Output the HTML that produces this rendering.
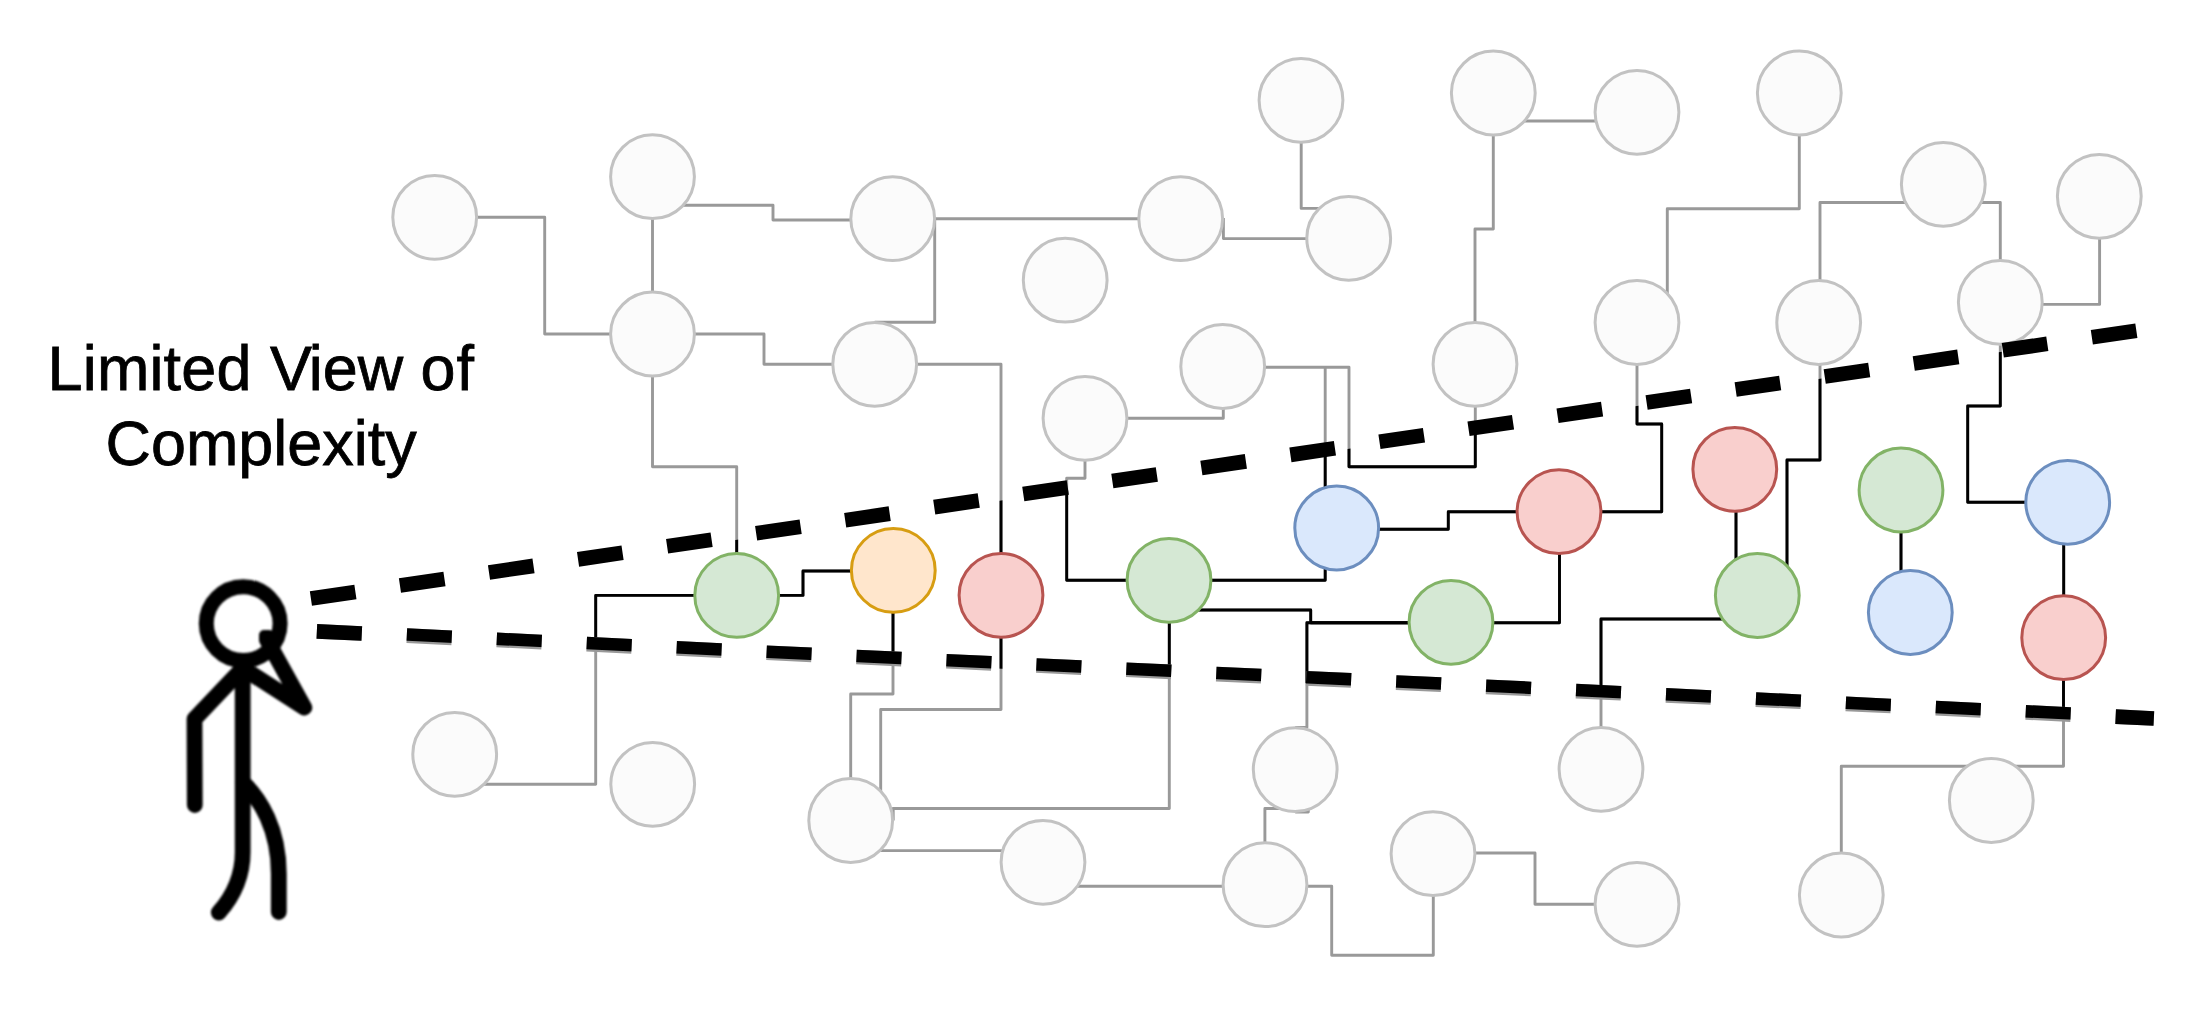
<!DOCTYPE html>
<html><head><meta charset="utf-8"><title>Limited View of Complexity</title>
<style>
html,body{margin:0;padding:0;background:#fff;}
body{width:2206px;height:1017px;overflow:hidden;font-family:"Liberation Sans",sans-serif;}
svg{display:block;}
</style></head><body>
<svg width="2206" height="1017" viewBox="0 0 2206 1017">
<defs>
<clipPath id="cone"><polygon points="250.0,612.3 2206.0,321.4 2206.0,725.8 250.0,633.0"/></clipPath>
<clipPath id="lowclip"><polygon points="0.0,0.0 2206.0,0.0 2206.0,1017.0 2090.0,1017.0 2090.0,720.6 392.0,640.1 392.0,1017.0 0.0,1017.0"/></clipPath>
<filter id="soft" x="-10%" y="-10%" width="120%" height="120%"><feGaussianBlur stdDeviation="0.9"/></filter>
</defs>
<rect width="2206" height="1017" fill="#fff"/>
<g fill="none" stroke="#999999" stroke-width="2.9" stroke-linejoin="round">
<polyline points="434.7,217.3 544.7,217.3 544.7,334.0 652.5,334.0"/>
<polyline points="652.5,176.7 652.5,334.0"/>
<polyline points="660.0,205.3 773.0,205.3 773.0,220.0 892.7,220.0"/>
<polyline points="892.7,218.7 1180.7,218.7"/>
<polyline points="934.7,218.7 934.7,322.3 874.7,322.3"/>
<polyline points="652.5,334.0 764.0,334.0 764.0,364.3 874.7,364.3"/>
<polyline points="874.7,364.3 1001.0,364.3 1001.0,595.3"/>
<polyline points="652.5,334.0 652.5,466.7 736.7,466.7 736.7,595.4"/>
<polyline points="1223.4,218.0 1223.4,238.6 1348.7,238.6"/>
<polyline points="1301.2,100.3 1301.2,208.4 1330.0,208.4"/>
<polyline points="1493.3,121.0 1637.0,121.0"/>
<polyline points="1493.3,93.0 1493.3,229.0 1475.0,229.0 1475.0,364.3"/>
<polyline points="1799.3,93.0 1799.3,208.7 1667.3,208.7 1667.3,322.5"/>
<polyline points="1943.3,202.5 1820.0,202.5 1820.0,322.5"/>
<polyline points="1943.3,202.5 2000.3,202.5 2000.3,302.3"/>
<polyline points="2099.6,196.3 2099.6,304.4 2000.3,304.4"/>
<polyline points="1085.0,418.3 1223.3,418.3 1223.3,366.5"/>
<polyline points="1085.0,418.3 1085.0,478.3 1066.7,478.3 1066.7,580.3 1169.0,580.3"/>
<polyline points="1169.0,580.3 1325.2,580.3 1325.2,528.0"/>
<polyline points="1222.7,367.3 1349.0,367.3 1349.0,466.7 1475.3,466.7 1475.3,364.3"/>
<polyline points="1325.2,367.3 1325.2,528.0"/>
<polyline points="1336.7,529.3 1448.3,529.3 1448.3,511.7 1559.0,511.7"/>
<polyline points="1559.0,511.7 1661.7,511.7 1661.7,424.0 1637.0,424.0 1637.0,322.5"/>
<polyline points="1559.5,511.7 1559.5,622.7 1451.0,622.7"/>
<polyline points="1169.0,610.0 1310.7,610.0 1310.7,622.7 1451.0,622.7"/>
<polyline points="1451.0,622.7 1306.9,622.7 1306.9,727.4 1295.2,727.4"/>
<polyline points="1295.2,812.0 1308.3,812.0 1308.3,808.5 1264.9,808.5 1264.9,884.7"/>
<polyline points="1169.3,580.3 1169.3,808.5 893.2,808.5 893.2,820.5"/>
<polyline points="736.7,595.4 595.7,595.4 595.7,784.3 470.0,784.3"/>
<polyline points="736.7,595.4 803.0,595.4 803.0,571.0 892.7,571.0"/>
<polyline points="893.0,570.0 893.0,694.0 850.7,694.0 850.7,820.5"/>
<polyline points="1001.0,595.3 1001.0,709.5 880.7,709.5 880.7,810.0"/>
<polyline points="880.8,840.0 880.8,850.6 1020.0,850.6"/>
<polyline points="1060.0,886.3 1265.0,886.3"/>
<polyline points="1265.0,886.3 1331.7,886.3 1331.7,955.3 1433.3,955.3 1433.3,853.7"/>
<polyline points="1433.0,853.0 1535.0,853.0 1535.0,904.3 1637.0,904.3"/>
<polyline points="1736.0,468.7 1736.0,565.0"/>
<polyline points="1820.0,322.5 1820.0,460.0 1787.0,460.0 1787.0,575.0"/>
<polyline points="1740.0,619.0 1601.0,619.0 1601.0,769.3"/>
<polyline points="1901.0,490.0 1901.0,590.0"/>
<polyline points="2000.3,302.3 2000.3,406.0 1967.7,406.0 1967.7,502.3 2067.7,502.3"/>
<polyline points="2067.7,543.5 2063.7,543.5 2063.7,637.7"/>
<polyline points="2063.5,637.7 2063.5,766.3 1841.3,766.3 1841.3,895.0"/>
</g>
<g fill="none" stroke="#000" stroke-width="2.9" stroke-linejoin="round" clip-path="url(#cone)">
<polyline points="434.7,217.3 544.7,217.3 544.7,334.0 652.5,334.0"/>
<polyline points="652.5,176.7 652.5,334.0"/>
<polyline points="660.0,205.3 773.0,205.3 773.0,220.0 892.7,220.0"/>
<polyline points="892.7,218.7 1180.7,218.7"/>
<polyline points="934.7,218.7 934.7,322.3 874.7,322.3"/>
<polyline points="652.5,334.0 764.0,334.0 764.0,364.3 874.7,364.3"/>
<polyline points="874.7,364.3 1001.0,364.3 1001.0,595.3"/>
<polyline points="652.5,334.0 652.5,466.7 736.7,466.7 736.7,595.4"/>
<polyline points="1223.4,218.0 1223.4,238.6 1348.7,238.6"/>
<polyline points="1301.2,100.3 1301.2,208.4 1330.0,208.4"/>
<polyline points="1493.3,121.0 1637.0,121.0"/>
<polyline points="1493.3,93.0 1493.3,229.0 1475.0,229.0 1475.0,364.3"/>
<polyline points="1799.3,93.0 1799.3,208.7 1667.3,208.7 1667.3,322.5"/>
<polyline points="1943.3,202.5 1820.0,202.5 1820.0,322.5"/>
<polyline points="1943.3,202.5 2000.3,202.5 2000.3,302.3"/>
<polyline points="2099.6,196.3 2099.6,304.4 2000.3,304.4"/>
<polyline points="1085.0,418.3 1223.3,418.3 1223.3,366.5"/>
<polyline points="1085.0,418.3 1085.0,478.3 1066.7,478.3 1066.7,580.3 1169.0,580.3"/>
<polyline points="1169.0,580.3 1325.2,580.3 1325.2,528.0"/>
<polyline points="1222.7,367.3 1349.0,367.3 1349.0,466.7 1475.3,466.7 1475.3,364.3"/>
<polyline points="1325.2,367.3 1325.2,528.0"/>
<polyline points="1336.7,529.3 1448.3,529.3 1448.3,511.7 1559.0,511.7"/>
<polyline points="1559.0,511.7 1661.7,511.7 1661.7,424.0 1637.0,424.0 1637.0,322.5"/>
<polyline points="1559.5,511.7 1559.5,622.7 1451.0,622.7"/>
<polyline points="1169.0,610.0 1310.7,610.0 1310.7,622.7 1451.0,622.7"/>
<polyline points="1451.0,622.7 1306.9,622.7 1306.9,727.4 1295.2,727.4"/>
<polyline points="1295.2,812.0 1308.3,812.0 1308.3,808.5 1264.9,808.5 1264.9,884.7"/>
<polyline points="1169.3,580.3 1169.3,808.5 893.2,808.5 893.2,820.5"/>
<polyline points="736.7,595.4 595.7,595.4 595.7,784.3 470.0,784.3"/>
<polyline points="736.7,595.4 803.0,595.4 803.0,571.0 892.7,571.0"/>
<polyline points="893.0,570.0 893.0,694.0 850.7,694.0 850.7,820.5"/>
<polyline points="1001.0,595.3 1001.0,709.5 880.7,709.5 880.7,810.0"/>
<polyline points="880.8,840.0 880.8,850.6 1020.0,850.6"/>
<polyline points="1060.0,886.3 1265.0,886.3"/>
<polyline points="1265.0,886.3 1331.7,886.3 1331.7,955.3 1433.3,955.3 1433.3,853.7"/>
<polyline points="1433.0,853.0 1535.0,853.0 1535.0,904.3 1637.0,904.3"/>
<polyline points="1736.0,468.7 1736.0,565.0"/>
<polyline points="1820.0,322.5 1820.0,460.0 1787.0,460.0 1787.0,575.0"/>
<polyline points="1740.0,619.0 1601.0,619.0 1601.0,769.3"/>
<polyline points="1901.0,490.0 1901.0,590.0"/>
<polyline points="2000.3,302.3 2000.3,406.0 1967.7,406.0 1967.7,502.3 2067.7,502.3"/>
<polyline points="2067.7,543.5 2063.7,543.5 2063.7,637.7"/>
<polyline points="2063.5,637.7 2063.5,766.3 1841.3,766.3 1841.3,895.0"/>
</g>
<g fill="#fbfbfb" stroke="#c2c2c2" stroke-width="3.0">
<circle cx="434.7" cy="217.3" r="41.9"/>
<circle cx="652.5" cy="176.7" r="41.9"/>
<circle cx="892.7" cy="218.7" r="41.9"/>
<circle cx="652.5" cy="334" r="41.9"/>
<circle cx="874.7" cy="364.3" r="41.9"/>
<circle cx="1065.2" cy="280.2" r="41.9"/>
<circle cx="1180.7" cy="218.7" r="41.9"/>
<circle cx="1301" cy="100.3" r="41.9"/>
<circle cx="1348.7" cy="238.3" r="41.9"/>
<circle cx="1222.7" cy="366.5" r="41.9"/>
<circle cx="1085" cy="418.3" r="41.9"/>
<circle cx="1493.3" cy="93" r="41.9"/>
<circle cx="1637" cy="112.3" r="41.9"/>
<circle cx="1799.3" cy="93" r="41.9"/>
<circle cx="1475" cy="364.3" r="41.9"/>
<circle cx="1637" cy="322.5" r="41.9"/>
<circle cx="1943.3" cy="184.3" r="41.9"/>
<circle cx="2099.3" cy="196.3" r="41.9"/>
<circle cx="1818.7" cy="322.5" r="41.9"/>
<circle cx="2000.3" cy="302.3" r="41.9"/>
<circle cx="454.7" cy="754.3" r="41.9"/>
<circle cx="652.7" cy="784.3" r="41.9"/>
<circle cx="850.7" cy="820.5" r="41.9"/>
<circle cx="1043" cy="862.3" r="41.9"/>
<circle cx="1265" cy="884.7" r="41.9"/>
<circle cx="1295.2" cy="769.6" r="41.9"/>
<circle cx="1433" cy="853.7" r="41.9"/>
<circle cx="1637" cy="904.3" r="41.9"/>
<circle cx="1601" cy="769.3" r="41.9"/>
<circle cx="1841.3" cy="895" r="41.9"/>
<circle cx="1991.3" cy="800.5" r="41.9"/>
</g>
<g stroke-width="3.0">
<circle cx="736.7" cy="595.4" r="41.9" fill="#d5e8d4" stroke="#82b366"/>
<circle cx="893.3" cy="570.4" r="41.9" fill="#ffe6cc" stroke="#d79d12"/>
<circle cx="1001" cy="595.3" r="41.9" fill="#f9cfcd" stroke="#b85450"/>
<circle cx="1169" cy="580.3" r="41.9" fill="#d5e8d4" stroke="#82b366"/>
<circle cx="1336.7" cy="528" r="41.9" fill="#dae8fc" stroke="#6c8ebf"/>
<circle cx="1451" cy="622.3" r="41.9" fill="#d5e8d4" stroke="#82b366"/>
<circle cx="1559" cy="511.7" r="41.9" fill="#f9cfcd" stroke="#b85450"/>
<circle cx="1734.8" cy="469.3" r="41.9" fill="#f9cfcd" stroke="#b85450"/>
<circle cx="1757.3" cy="595.5" r="41.9" fill="#d5e8d4" stroke="#82b366"/>
<circle cx="1901" cy="490" r="41.9" fill="#d5e8d4" stroke="#82b366"/>
<circle cx="1910.3" cy="612.5" r="41.9" fill="#dae8fc" stroke="#6c8ebf"/>
<circle cx="2067.7" cy="502.3" r="41.9" fill="#dae8fc" stroke="#6c8ebf"/>
<circle cx="2063.7" cy="637.7" r="41.9" fill="#f9cfcd" stroke="#b85450"/>
</g>
<g fill="none" stroke-width="14.7" stroke-dasharray="45 45">
<line x1="316.85" y1="631.4" x2="2153.85" y2="718.5" stroke="#999" stroke-dasharray="45 45.04"/>
<line x1="316.85" y1="631.4" x2="2153.85" y2="718.5" stroke="#000" stroke-dasharray="45 45.04" clip-path="url(#lowclip)"/>
<line x1="310.9" y1="598.55" x2="2137.4" y2="330.6" stroke="#000"/>
</g>
<g id="person" fill="none" stroke="#000" stroke-width="15.8" stroke-linecap="round" stroke-linejoin="round" filter="url(#soft)">
<circle cx="243.2" cy="623.6" r="36.9" stroke-width="15"/>
<path d="M242.7,662 L242.7,852 Q242.7,885.5 218.8,912.6"/>
<path d="M242.8,782.3 C260.1,799 278.8,828.5 278.8,873.7 L278.8,912"/>
<path d="M243,668 L194.5,719 L194.8,805"/>
<path d="M244,669 L304.3,707.6 L267.5,641"/>
<rect x="262" y="633" width="9" height="9" rx="2" fill="#000" stroke-width="6"/>
</g>
<g font-family="Liberation Sans, sans-serif" font-size="62.9" fill="#000" stroke="#000" stroke-width="0.8" text-anchor="middle">
<text x="47.6" y="389.9" text-anchor="start"><tspan letter-spacing="0.18">Limited</tspan> <tspan dx="1">V</tspan><tspan dx="-2.2">iew o</tspan><tspan dx="0.9">f</tspan></text>
<text x="261.1" y="464.9">Complexity</text>
</g>
</svg>
</body></html>
